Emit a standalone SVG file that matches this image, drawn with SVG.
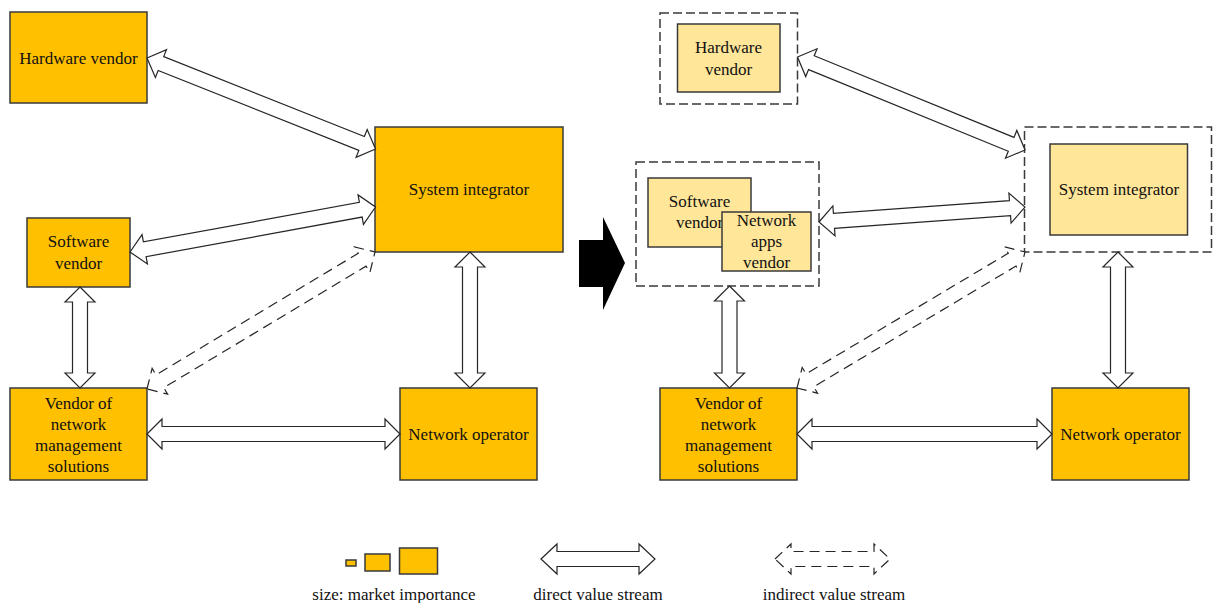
<svg xmlns="http://www.w3.org/2000/svg" width="1213" height="603" viewBox="0 0 1213 603">
  <style>
    .box { fill: #FFC000; stroke: #3a3a3a; stroke-width: 1.5; }
    .light { fill: #FFE699; stroke: #3a3a3a; stroke-width: 1.5; }
    .group { fill: none; stroke: #3a3a3a; stroke-width: 1.5; stroke-dasharray: 9 4; }
    .arrow { fill: #ffffff; stroke: #262626; stroke-width: 1.2; stroke-linejoin: miter; }
    .indirect { fill: #ffffff; stroke: #262626; stroke-width: 1.2; stroke-dasharray: 10 6; }
    text { font-family: "Liberation Serif", "Times New Roman", serif; font-size: 17px; fill: #111; text-anchor: middle; }
  </style>

  <!-- ========== Current value network (left) ========== -->
  <g id="hw-vendor-left">
    <rect class="box" x="10" y="12" width="137" height="91"/>
    <text x="78.5" y="64">Hardware vendor</text>
  </g>
  <g id="sys-integrator-left">
    <rect class="box" x="375" y="127" width="188" height="125"/>
    <text x="469" y="195">System integrator</text>
  </g>
  <g id="sw-vendor-left">
    <rect class="box" x="27" y="218" width="103" height="69"/>
    <text x="78.5" y="247">Software</text>
    <text x="78.5" y="269">vendor</text>
  </g>
  <g id="nms-vendor-left">
    <rect class="box" x="10" y="388" width="137" height="92"/>
    <text x="78.5" y="409">Vendor of</text>
    <text x="78.5" y="430">network</text>
    <text x="78.5" y="451">management</text>
    <text x="78.5" y="472">solutions</text>
  </g>
  <g id="net-operator-left">
    <rect class="box" x="400" y="388" width="137" height="92"/>
    <text x="468.5" y="440">Network operator</text>
  </g>

  <!-- transition arrow -->
  <g id="transition">
    <polygon points="579,240 603,240 603,217 625,263 603,310 603,287 579,287" fill="#000"/>
  </g>

  <!-- ========== Future value network (right) ========== -->
  <g id="hw-vendor-right">
    <rect class="group" x="660" y="13" width="137.5" height="91"/>
    <rect class="light" x="677.5" y="24" width="102.5" height="68"/>
    <text x="728.5" y="53">Hardware</text>
    <text x="728.5" y="75">vendor</text>
  </g>
  <g id="sys-integrator-right">
    <rect class="group" x="1024.5" y="127" width="187" height="125"/>
    <rect class="light" x="1050" y="144" width="137.5" height="91"/>
    <text x="1119" y="195">System integrator</text>
  </g>
  <g id="sw-vendor-right">
    <rect class="group" x="636" y="162" width="183" height="124"/>
    <rect class="light" x="648" y="178" width="103" height="69"/>
    <text x="699.5" y="207">Software</text>
    <text x="699.5" y="228">vendor</text>
  </g>
  <g id="apps-vendor-right">
    <rect class="light" x="722" y="212" width="89" height="59"/>
    <text x="766.5" y="226">Network</text>
    <text x="766.5" y="247">apps</text>
    <text x="766.5" y="268">vendor</text>
  </g>
  <g id="nms-vendor-right">
    <rect class="box" x="660" y="388" width="137" height="92"/>
    <text x="728.5" y="409">Vendor of</text>
    <text x="728.5" y="430">network</text>
    <text x="728.5" y="451">management</text>
    <text x="728.5" y="472">solutions</text>
  </g>
  <g id="net-operator-right">
    <rect class="box" x="1052" y="388" width="137" height="92"/>
    <text x="1120.5" y="440">Network operator</text>
  </g>

  <!-- ========== Value streams ========== -->
  <g id="connectors">
    <!-- left network -->
    <polygon class="arrow" transform="translate(147,58) rotate(21.71)" points="0,0 15,-15 15,-7.5 231,-7.5 231,-15 246,0 231,15 231,7.5 15,7.5 15,15"/>
    <polygon class="arrow" transform="translate(130,252) rotate(-10.39)" points="0,0 15,-15 15,-7.5 234.6,-7.5 234.6,-15 249.6,0 234.6,15 234.6,7.5 15,7.5 15,15"/>
    <polygon class="indirect" transform="translate(147,389) rotate(-31)" points="0,0 15,-15 15,-7.5 251,-7.5 251,-15 266,0 251,15 251,7.5 15,7.5 15,15"/>
    <polygon class="arrow" transform="translate(80,287) rotate(90)" points="0,0 15,-15 15,-7.5 86,-7.5 86,-15 101,0 86,15 86,7.5 15,7.5 15,15"/>
    <polygon class="arrow" transform="translate(470,252) rotate(90)" points="0,0 15,-15 15,-7.5 121,-7.5 121,-15 136,0 121,15 121,7.5 15,7.5 15,15"/>
    <polygon class="arrow" transform="translate(147,434)" points="0,0 15,-15 15,-7.5 238,-7.5 238,-15 253,0 238,15 238,7.5 15,7.5 15,15"/>

    <!-- right network -->
    <polygon class="arrow" transform="translate(797.5,57) rotate(22.23)" points="0,0 15,-15 15,-7.5 230.8,-7.5 230.8,-15 245.8,0 230.8,15 230.8,7.5 15,7.5 15,15"/>
    <polygon class="arrow" transform="translate(819,222) rotate(-4.16)" points="0,0 15,-15 15,-7.5 191.5,-7.5 191.5,-15 206.5,0 191.5,15 191.5,7.5 15,7.5 15,15"/>
    <polygon class="indirect" transform="translate(797,388) rotate(-30.82)" points="0,0 15,-15 15,-7.5 250.5,-7.5 250.5,-15 265.5,0 250.5,15 250.5,7.5 15,7.5 15,15"/>
    <polygon class="arrow" transform="translate(729.5,286) rotate(90)" points="0,0 15,-15 15,-7.5 87,-7.5 87,-15 102,0 87,15 87,7.5 15,7.5 15,15"/>
    <polygon class="arrow" transform="translate(1118,252) rotate(90)" points="0,0 15,-15 15,-7.5 121,-7.5 121,-15 136,0 121,15 121,7.5 15,7.5 15,15"/>
    <polygon class="arrow" transform="translate(797,434)" points="0,0 15,-15 15,-7.5 240,-7.5 240,-15 255,0 240,15 240,7.5 15,7.5 15,15"/>
  </g>

  <!-- ========== Legend ========== -->
  <g id="legend">
    <rect class="box" x="346" y="560" width="10" height="6" stroke-width="1.2"/>
    <rect class="box" x="365" y="554" width="25" height="17" stroke-width="1.2"/>
    <rect class="box" x="399.5" y="548" width="38" height="26" stroke-width="1.2"/>
    <text x="394" y="600">size: market importance</text>

    <polygon class="arrow" transform="translate(541,559)" points="0,0 16,-15 16,-7.5 98,-7.5 98,-15 114,0 98,15 98,7.5 16,7.5 16,15"/>
    <text x="598" y="600">direct value stream</text>

    <polygon class="indirect" transform="translate(775,559)" points="0,0 16,-15 16,-7.5 99,-7.5 99,-15 115,0 99,15 99,7.5 16,7.5 16,15"/>
    <text x="834" y="600">indirect value stream</text>
  </g>
</svg>
